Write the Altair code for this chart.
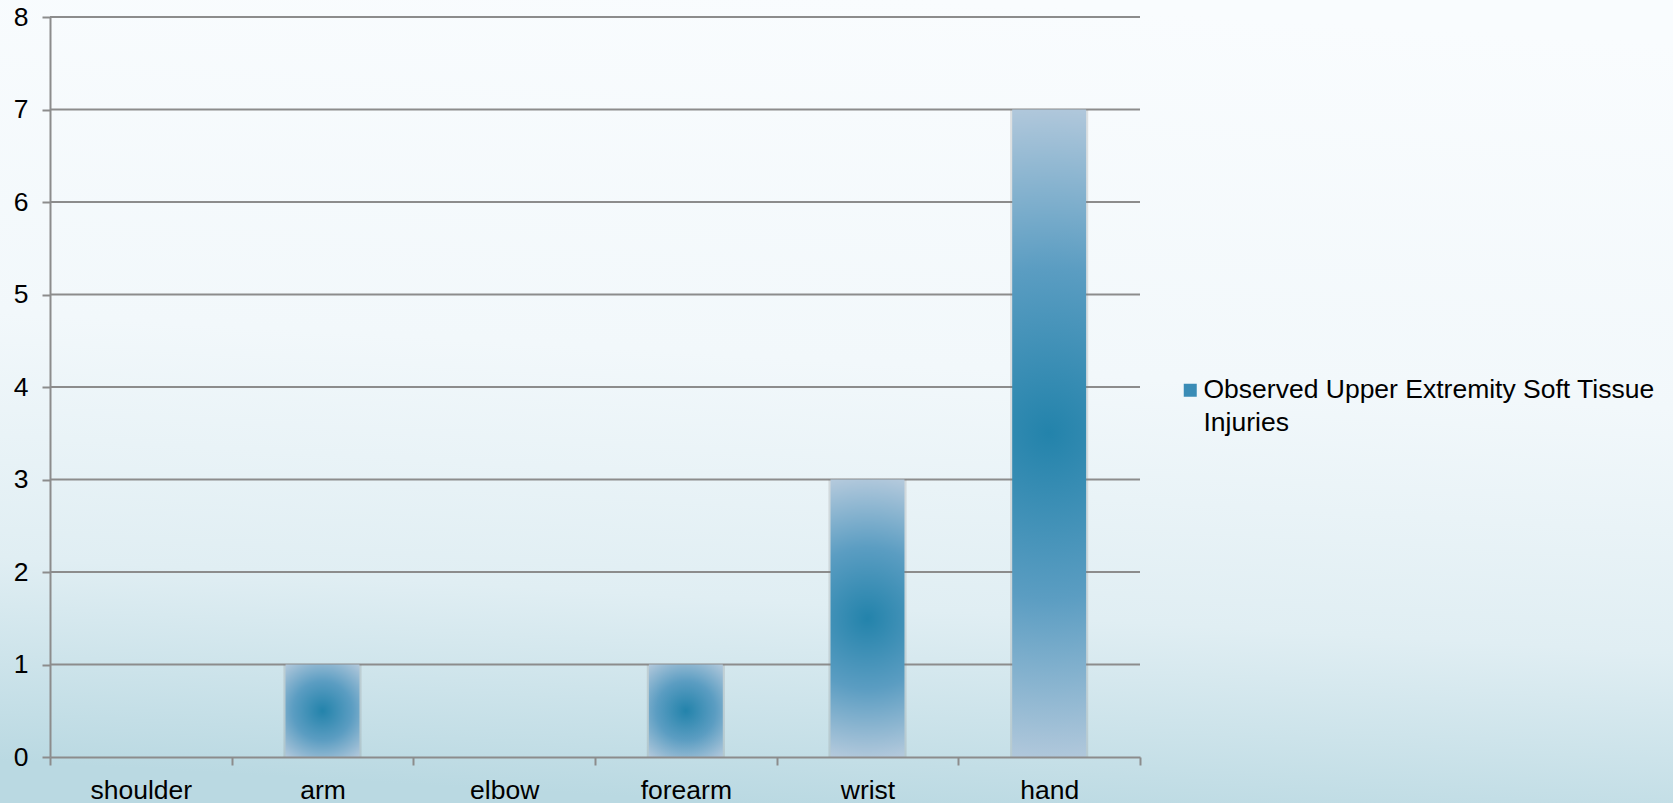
import json

import altair as alt
import pandas as pd

# Chart data
categories = ["shoulder", "arm", "elbow", "forearm", "wrist", "hand"]
injuries = [0, 1, 0, 1, 3, 7]
legend_lines = ["Observed Upper Extremity Soft Tissue", "Injuries"]
y_ticks = [0, 1, 2, 3, 4, 5, 6, 7, 8]

series_name = " ".join(legend_lines)
bars_df = pd.DataFrame({"part": categories, "count": injuries, "series": series_name})
grid_df = pd.DataFrame({"v": y_ticks[1:]})

# Plot-area size and outer padding
W, H = 1090, 740
PAD = {"left": 50, "top": 17, "right": 533, "bottom": 46}

FONT = "Liberation Sans"
GRAY = "#8c8c8c"
FONT_SIZE = 26.5

page_gradient = {
    "gradient": "linear",
    "x1": 0.56, "y1": 0, "x2": 0.44, "y2": 1,
    "stops": [
        {"offset": 0.0, "color": "#f9fcfe"},
        {"offset": 0.45, "color": "#f2f8fb"},
        {"offset": 0.75, "color": "#e0eef3"},
        {"offset": 1.0, "color": "#bad9e2"},
    ],
}


def bar_gradient(radius):
    """Radial fill fading from a deep centre to a pale rim."""
    return {
        "gradient": "radial",
        "x1": 0.5, "y1": 0.5, "r1": 0,
        "x2": 0.5, "y2": 0.5, "r2": radius,
        "stops": [
            {"offset": 0.0, "color": "#2383ab"},
            {"offset": 0.5, "color": "#5b9dc2"},
            {"offset": 1.0, "color": "#b3c9dc"},
        ],
    }


x_enc = alt.X(
    "part:N",
    sort=categories,
    scale=alt.Scale(paddingInner=0, paddingOuter=0),
    axis=alt.Axis(
        title=None,
        labelAngle=0,
        tickBand="extent",
        tickSize=8,
        labelPadding=12,
        zindex=1,
    ),
)
y_enc = alt.Y(
    "count:Q",
    scale=alt.Scale(domain=[0, 8], nice=False, zero=True),
    axis=alt.Axis(
        title=None,
        values=y_ticks,
        format="d",
        grid=False,
        tickSize=8,
        labelPadding=14,
        zindex=1,
    ),
)

# Page background, drawn beyond the plot area
background = alt.Chart(alt.Data(values=[{}])).mark_rect(
    fill=page_gradient, clip=False
).encode(
    x=alt.value(-PAD["left"]),
    x2=alt.value(W + PAD["right"]),
    y=alt.value(-PAD["top"]),
    y2=alt.value(H + PAD["bottom"]),
)

# Horizontal gridlines at the y tick values
grid = alt.Chart(grid_df).mark_rule(color=GRAY, strokeWidth=2).encode(
    y=alt.Y("v:Q"),
    x=alt.value(0),
    x2=alt.value(W),
)

# Soft shadow around each bar
shadow = alt.Chart(bars_df).mark_bar(
    fill="#7f7f7f", opacity=0.22, width=alt.RelativeBandSize(0.43)
).encode(x=x_enc, y=y_enc)

# Squat bars need a wider glow than tall ones so the rim reaches the corners
bars = alt.Chart(bars_df).mark_bar(width=alt.RelativeBandSize(0.407)).encode(
    x=x_enc,
    y=y_enc,
    fill=alt.condition(
        "datum.count > 1",
        alt.value(bar_gradient(0.51)),
        alt.value(bar_gradient(0.64)),
    ),
)

# Invisible layer that carries the series legend
legend_layer = alt.Chart(bars_df).mark_square(opacity=0, size=1).encode(
    x=x_enc,
    y=y_enc,
    color=alt.Color(
        "series:N",
        scale=alt.Scale(range=["#3a8cb6"]),
        legend=alt.Legend(
            title=None,
            orient="none",
            legendX=1127,
            legendY=360,
            symbolType="square",
            symbolSize=169,
            symbolOpacity=1,
            symbolStrokeWidth=0,
            labelFont=FONT,
            labelFontSize=FONT_SIZE,
            labelColor="#000000",
            labelOffset=0,
            labelLimit=800,
            padding=0,
            labelExpr=json.dumps(legend_lines),
        ),
    ),
)

chart = (
    alt.layer(background, grid, shadow, bars, legend_layer)
    .properties(
        width=W,
        height=H,
        padding=PAD,
        autosize=alt.AutoSizeParams(type="none"),
        background="#f7fbfd",
    )
    .configure(style={"guide-label": {"lineHeight": 33}})
    .configure_view(stroke=None)
    .configure_axis(
        domainColor=GRAY,
        domainWidth=2,
        tickColor=GRAY,
        tickWidth=2,
        labelFont=FONT,
        labelFontSize=FONT_SIZE,
        labelColor="#000000",
    )
)

chart.save("out.html", embed_options={"renderer": "svg", "actions": False})
